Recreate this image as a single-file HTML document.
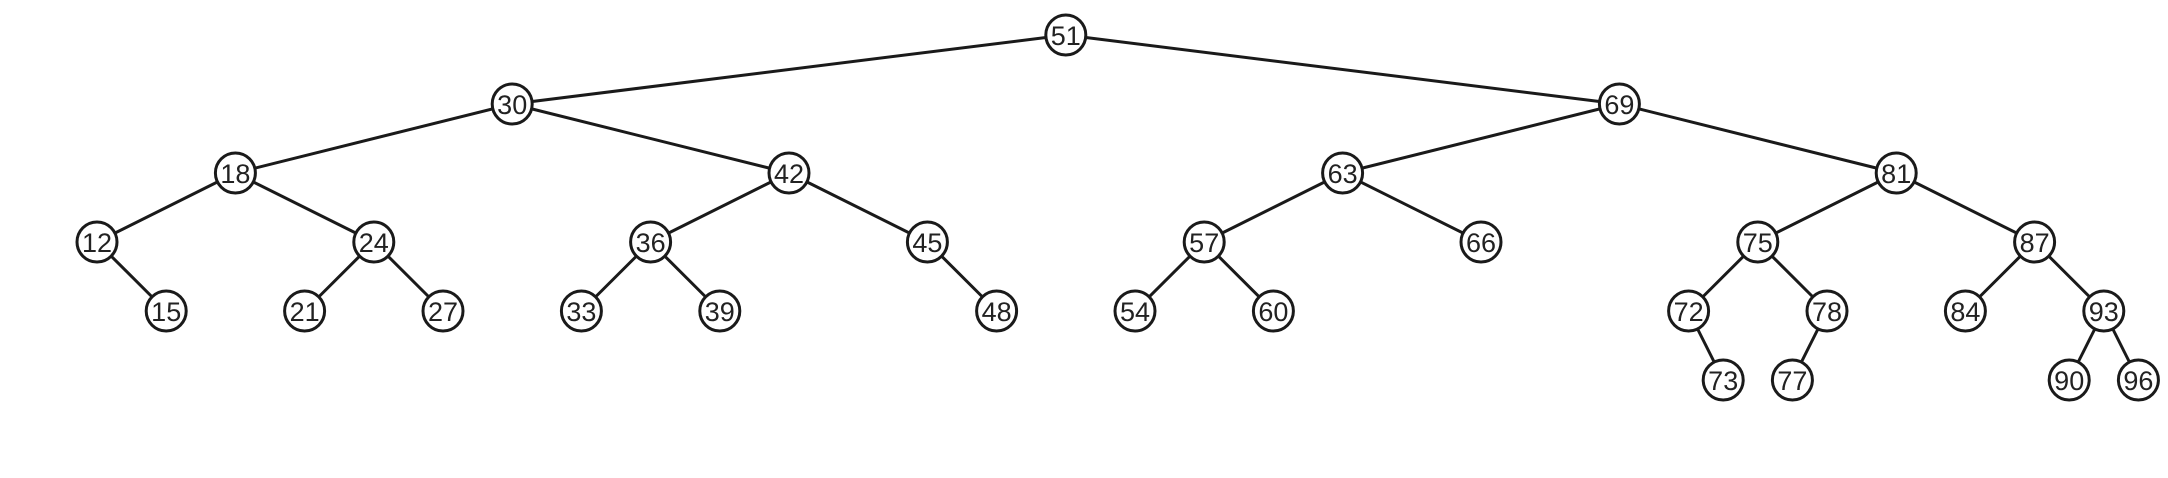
<!DOCTYPE html>
<html><head><meta charset="utf-8"><style>
html,body{margin:0;padding:0;background:#fff;}
svg{display:block;}
text{font-family:"Liberation Sans",sans-serif;font-size:27px;fill:#222;}
</style></head><body>
<svg id="tree" width="2168" height="478" viewBox="0 0 2168 478"></svg>
<script>
const keys   = [51,30,69,18,42,63,81,12,24,36,45,57,66,75,87,15,21,27,33,39,48,54,60,72,78,84,93,73,77,90,96];
const slots  = [14,6,22,2,10,18,26,0,4,8,12,16,20,24,28,1,3,5,7,9,13,15,17,23,25,27,29,23.5,24.5,28.5,29.5];
const depths = [0,1,1,2,2,2,2,3,3,3,3,3,3,3,3,4,4,4,4,4,4,4,4,4,4,4,4,5,5,5,5];
const parents= [null,51,51,30,30,69,69,18,18,42,42,63,63,81,81,12,24,24,36,36,45,57,57,75,75,87,87,72,78,93,93];
const NS="http://www.w3.org/2000/svg";
const svg=document.getElementById('tree');
const xOf=s=>97+s*69.2, yOf=d=>35+d*69, R=20;
const pos={};
keys.forEach((k,i)=>pos[k]=[xOf(slots[i]),yOf(depths[i])]);
keys.forEach((k,i)=>{
  const p=parents[i]; if(p===null) return;
  const [x1,y1]=pos[p],[x2,y2]=pos[k];
  const l=document.createElementNS(NS,'line');
  l.setAttribute('x1',x1);l.setAttribute('y1',y1);l.setAttribute('x2',x2);l.setAttribute('y2',y2);
  l.setAttribute('stroke','#1a1a1a');l.setAttribute('stroke-width','3');
  
  
  svg.appendChild(l);
});
keys.forEach(k=>{
  const [x,y]=pos[k];
  const g=document.createElementNS(NS,'g');
  
  
  const c=document.createElementNS(NS,'circle');
  c.setAttribute('cx',x);c.setAttribute('cy',y);c.setAttribute('r',R);
  c.setAttribute('fill','#fff');c.setAttribute('stroke','#1a1a1a');c.setAttribute('stroke-width','3');
  g.appendChild(c);
  const t=document.createElementNS(NS,'text');
  t.setAttribute('x',x);t.setAttribute('y',y+10);t.setAttribute('text-anchor','middle');
  t.textContent=k;
  g.appendChild(t);
  svg.appendChild(g);
});
</script>
</body></html>
